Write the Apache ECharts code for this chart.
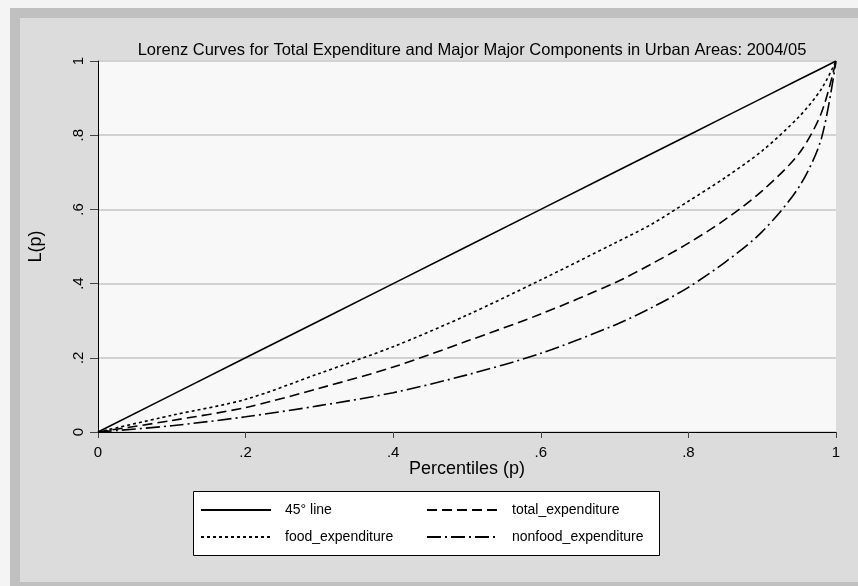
<!DOCTYPE html>
<html><head><meta charset="utf-8">
<script src="https://cdn.jsdelivr.net/npm/echarts@6/dist/echarts.min.js"></script>
<style>
body{margin:0;background:#f4f4f4;width:858px;height:586px;overflow:hidden;}
#frame{position:absolute;left:10px;top:8px;width:848px;height:578px;background:#c0c0c0;}
#inner{position:absolute;left:20px;top:18px;width:838px;height:564px;background:#dcdcdc;}
#chart{position:absolute;left:0;top:0;width:858px;height:586px;}
</style></head>
<body>
<div id="frame"></div><div id="inner"></div>
<div id="chart"></div>
<script>
const titleText = 'Lorenz Curves for Total Expenditure and Major Major Components in Urban Areas: 2004/05';
const seriesNames = ['45° line', 'food_expenditure', 'total_expenditure', 'nonfood_expenditure'];
const percentiles = [0, 0.1, 0.2, 0.3, 0.4, 0.5, 0.6, 0.7, 0.75, 0.8, 0.85, 0.9, 0.95, 0.98, 1];
const line45 = [0, 0.1, 0.2, 0.3, 0.4, 0.5, 0.6, 0.7, 0.75, 0.8, 0.85, 0.9, 0.95, 0.98, 1];
const foodExp = [0, 0.045, 0.088, 0.158, 0.23, 0.315, 0.41, 0.509, 0.56, 0.622, 0.686, 0.758, 0.85, 0.924, 1];
const totalExp = [0, 0.031, 0.066, 0.118, 0.175, 0.245, 0.318, 0.402, 0.453, 0.509, 0.573, 0.65, 0.751, 0.859, 1];
const nonfoodExp = [0, 0.017, 0.041, 0.071, 0.106, 0.154, 0.212, 0.288, 0.335, 0.39, 0.458, 0.54, 0.661, 0.79, 1];
const tickLabelsX = ['0', '.2', '.4', '.6', '.8', '1'];
const tickLabelsY = ['0', '.2', '.4', '.6', '.8', '1'];
const xName = 'Percentiles (p)';
const yName = 'L(p)';

const pairs = arr => percentiles.map((p, i) => [p, arr[i]]);
const fmt = labels => v => labels[Math.round(v * 5)];
const FONT = 'Liberation Sans, Arial, sans-serif';
const lineStyles = [
  {color:'#000', width:1.6, type:'solid'},
  {color:'#000', width:1.6, type:[3,3]},
  {color:'#000', width:1.6, type:[10,5]},
  {color:'#000', width:1.6, type:[14,4,2,4]}
];
const dataSets = [line45, foodExp, totalExp, nonfoodExp];

const chart = echarts.init(document.getElementById('chart'), null, {renderer:'canvas'});
chart.setOption({
  backgroundColor: 'transparent',
  animation: false,
  title: {
    text: titleText, left: 467, top: 37, textAlign: 'center',
    textStyle: {fontFamily: FONT, fontSize: 16.5, fontWeight: 'normal', color: '#000'}
  },
  grid: {left: 98, right: 22, top: 61, bottom: 154, show: true, backgroundColor: '#f8f8f8', borderWidth: 0},
  xAxis: {
    type: 'value', min: 0, max: 1, interval: 0.2,
    name: xName, nameLocation: 'middle', nameGap: 28, nameMoveOverlap: false,
    nameTextStyle: {fontFamily: FONT, fontSize: 18, color: '#000'},
    axisLine: {show: true, lineStyle: {color: '#000', width: 1}},
    axisTick: {show: true, length: 6, lineStyle: {color: '#444'}},
    axisLabel: {formatter: fmt(tickLabelsX), fontFamily: FONT, fontSize: 15, color: '#000', margin: 13},
    splitLine: {show: false}
  },
  yAxis: {
    type: 'value', min: 0, max: 1, interval: 0.2,
    name: yName, nameLocation: 'middle', nameGap: 53, nameRotate: 90, nameMoveOverlap: false,
    nameTextStyle: {fontFamily: FONT, fontSize: 18, color: '#000'},
    axisLine: {show: true, lineStyle: {color: '#000', width: 1}},
    axisTick: {show: true, length: 8, lineStyle: {color: '#444'}},
    axisLabel: {formatter: fmt(tickLabelsY), fontFamily: FONT, fontSize: 15, color: '#000', rotate: 90, margin: 12},
    splitLine: {show: true, lineStyle: {color: '#d2d2d2', width: 2}}
  },
  legend: [
    {data: [seriesNames[0], seriesNames[1]], orient: 'vertical', left: 195, top: 498,
     itemWidth: 70, itemHeight: 14, itemGap: 13, selectedMode: false,
     itemStyle: {opacity: 0},
     textStyle: {fontFamily: FONT, fontSize: 14, color: '#000', padding: [0,0,0,9]}},
    {data: [seriesNames[2], seriesNames[3]], orient: 'vertical', left: 421, top: 498,
     itemWidth: 70, itemHeight: 14, itemGap: 13, selectedMode: false,
     itemStyle: {opacity: 0},
     textStyle: {fontFamily: FONT, fontSize: 14, color: '#000', padding: [0,0,0,10]}}
  ],
  graphic: [
    {type: 'rect', left: 193, top: 491, z: 1,
     shape: {width: 466, height: 64}, style: {fill: '#fff', stroke: '#000', lineWidth: 1}}
  ],
  series: dataSets.map((d, i) => ({
    name: seriesNames[i], type: 'line', data: pairs(d),
    showSymbol: false, symbol: 'none', smooth: i === 0 ? false : 0.3,
    lineStyle: lineStyles[i], itemStyle: {color: '#000'}, z: 3
  }))
});
</script>
</body></html>
